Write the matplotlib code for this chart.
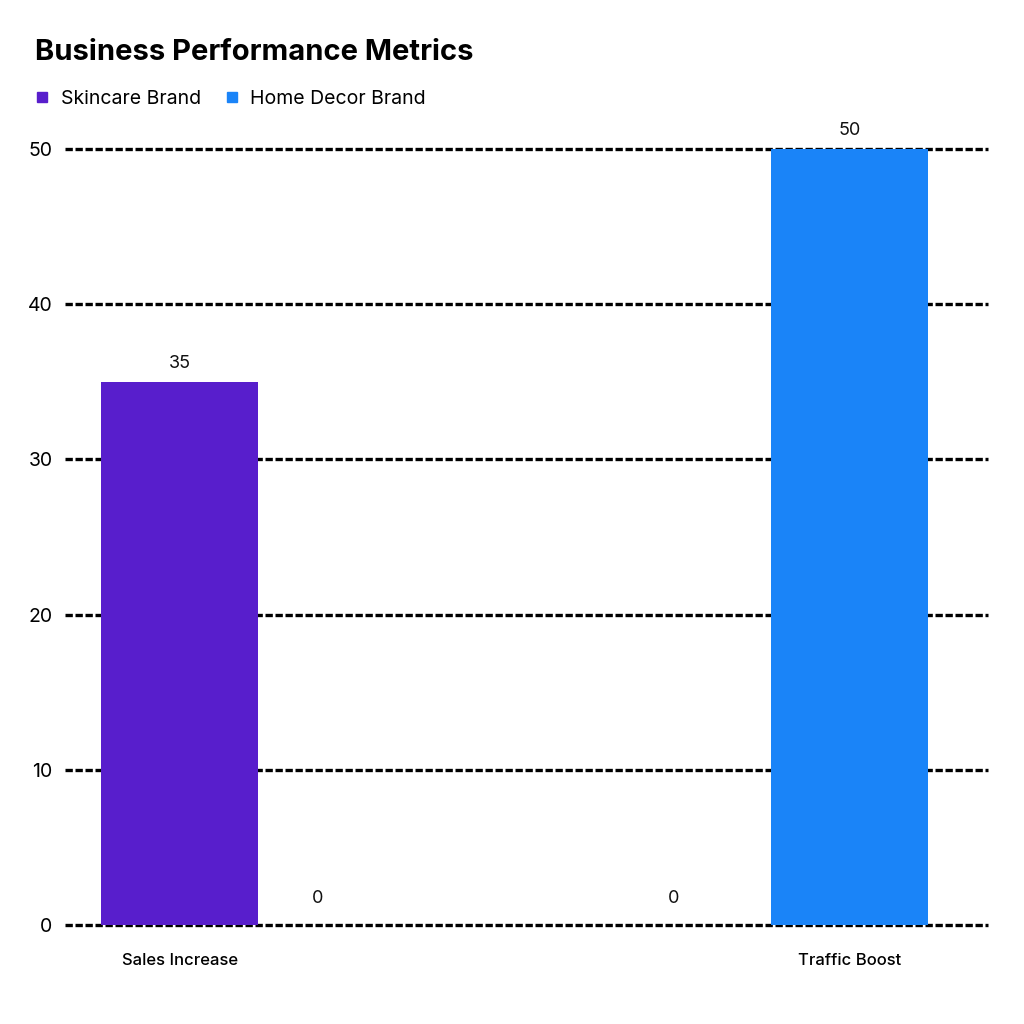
import numpy as np
import matplotlib
matplotlib.use("Agg")
import matplotlib.pyplot as plt
from matplotlib.lines import Line2D

categories = ["Sales Increase", "Traffic Boost"]
series_names = ["Skincare Brand", "Home Decor Brand"]
skincare = [35, 0]
home_decor = [0, 50]
colors = ["#581ECC", "#1A84F8"]
yticks = [0, 10, 20, 30, 40, 50]

plt.rcParams['font.family'] = ['Inter', 'DejaVu Sans']

fig = plt.figure(figsize=(10.24, 10.24), dpi=100)
ax = fig.add_axes([65 / 1024, 99 / 1024, 923 / 1024, 776 / 1024])

x = np.arange(len(categories))
w = 0.306
values = [skincare, home_decor]
offsets = [-w / 2, w / 2]

for vals, off, col in zip(values, offsets, colors):
    bars = ax.bar(x + off, vals, width=w, color=col, zorder=3)
    for b, v in zip(bars, vals):
        if v == 0:
            xy_off = (-14, 13)
        else:
            xy_off = (0, 7)
        ax.annotate(str(v), (b.get_x() + b.get_width() / 2, v),
                    xytext=xy_off, textcoords='offset points',
                    ha='center', va='bottom', fontsize=13, color='#111111')

# category labels sit under the taller bar of each group
tick_pos = [x[i] + offsets[int(np.argmax([s[i] for s in values]))] for i in range(len(categories))]
ax.set_xticks(tick_pos)
ax.set_xticklabels(categories, fontsize=12, fontweight='medium')
ax.set_yticks(yticks)
ax.set_yticklabels([str(t) for t in yticks], fontsize=14)
ax.set_xlim(-0.377, 1.422)
ax.set_ylim(0, 50)

ax.grid(axis='y', color='black', linestyle=(0, (2.2, 0.8)), linewidth=2.4, zorder=1)
for gl in ax.get_ygridlines():
    gl.set_clip_on(False)
ax.tick_params(axis='both', length=0)
ax.tick_params(axis='y', pad=9)
ax.tick_params(axis='x', pad=20)
for s in ax.spines.values():
    s.set_visible(False)

fig.text(35 / 1024, 1 - 52 / 1024, "Business Performance Metrics", fontsize=21,
         fontweight='bold', ha='left', va='center')

handles = [Line2D([0], [0], marker='s', linestyle='', markersize=7, color=c) for c in colors]
fig.legend(handles, series_names, loc='center left', bbox_to_anchor=(13 / 1024, 1 - 99 / 1024),
           ncol=2, frameon=False, fontsize=14, handletextpad=0.35, columnspacing=1.0,
           handlelength=1.2)

fig.savefig("out.png", dpi=100, facecolor='white')
